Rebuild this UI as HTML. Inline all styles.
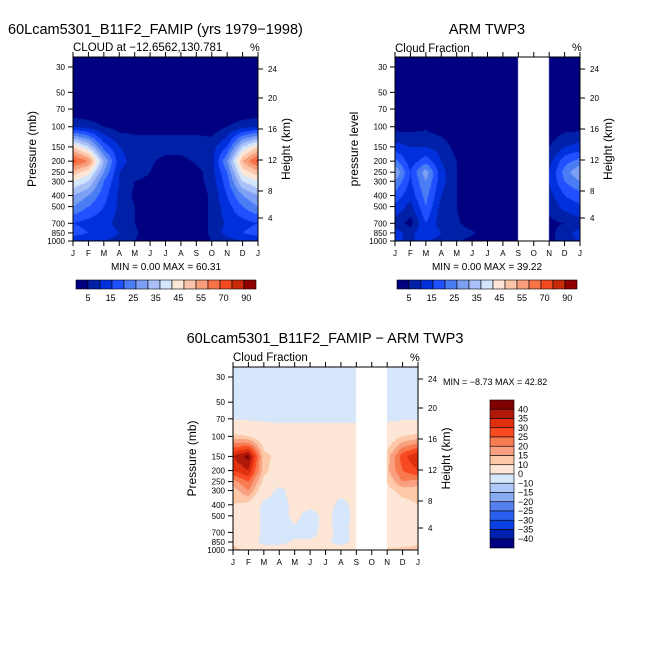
<!DOCTYPE html>
<html><head><meta charset="utf-8">
<style>
body{margin:0;background:#fff;}
#root{position:relative;width:654px;height:654px;overflow:hidden;font-family:"Liberation Sans",sans-serif;color:#000;}
canvas{position:absolute;}
svg{position:absolute;left:0;top:0;}
</style></head>
<body>
<div id="root">
<canvas id="c1" width="185" height="184" style="left:73px;top:57px"></canvas>
<canvas id="c2" width="185" height="184" style="left:395px;top:57px"></canvas>
<canvas id="c3" width="185" height="183" style="left:233px;top:367px"></canvas>
<svg id="ov" width="654" height="654"></svg>
</div>
<script>
// ---- data ----
const months = ["J","F","M","A","M","J","J","A","S","O","N","D","J"];
const levels = [30,50,70,100,150,200,250,300,400,500,700,850,1000];
const heightTicks = [24,20,16,12,8,4];
const modelCloud = [
 [0,0,0,0,0,0,0,0,0,0,0,0,0],
 [0,0,0,0,0,0,0,0,0,0,0,0,0],
 [0,0,0,0,0,0,0,0,0,0,0,0,0],
 [10,8,5,3,3,3,3,3,3,2,5,8,10],
 [45,35,18,10,8,8,8,8,8,8,15,35,45],
 [62,55,30,12,8,6,3,3,6,8,25,50,62],
 [48,42,25,10,7,5,2,2,3,8,20,42,48],
 [40,35,20,10,5,4,2,2,3,7,18,35,40],
 [30,25,17,9,4,2,1,1,2,6,15,25,30],
 [25,20,15,9,5,2,1,1,2,6,13,20,25],
 [15,13,12,8,5,2,1,1,2,6,11,13,15],
 [18,15,13,10,6,2,1,1,2,6,12,15,18],
 [10,10,10,8,5,2,1,1,2,5,8,10,10]
];
const obsCloud = [
 [0,0,0,0,0,0,0,0,0,null,0,0,0],
 [0,0,0,0,0,0,0,0,0,null,0,0,0],
 [0,0,0,0,0,0,0,0,0,null,0,0,0],
 [3,3,4,2,1,0,0,0,0,null,1,3,3],
 [12,10,10,8,3,1,0,0,0,null,5,10,12],
 [22,12,18,10,5,1,1,1,1,null,8,18,22],
 [30,15,28,12,5,1,1,1,1,null,10,22,30],
 [25,14,25,12,5,1,1,1,1,null,10,20,25],
 [18,12,22,10,5,1,1,1,1,null,8,15,18],
 [14,8,20,8,5,1,1,1,1,null,6,12,14],
 [8,3,15,7,6,2,1,1,1,null,4,5,8],
 [12,8,15,10,8,6,2,1,1,null,3,8,12],
 [10,10,10,8,6,3,1,1,1,null,3,8,10]
];
const diffCloud = [
 [-1,-1,-1,-1,-1,-1,-1,-1,-1,null,-1,-1,-1],
 [-1,-1,-1,-1,-1,-1,-1,-1,-1,null,-1,-1,-1],
 [-1,-1,-1,-1,-1,-1,-1,-1,-1,null,-1,-1,-1],
 [12,10,5,3,3,3,3,3,3,null,5,10,12],
 [35,42,12,8,5,5,5,5,5,null,12,28,35],
 [30,35,12,5,3,3,2,2,3,null,14,25,30],
 [18,25,8,3,3,3,2,2,3,null,10,20,18],
 [12,20,4,-2,3,3,2,2,3,null,8,12,12],
 [10,8,-2,-3,2,2,3,-2,2,null,5,8,10],
 [8,8,-3,-3,2,-3,2,-3,2,null,5,6,8],
 [6,9,-3,-3,-2,-2,2,-2,2,null,5,6,6],
 [9,6,-3,-2,1,1,1,-2,2,null,4,6,9],
 [12,8,5,3,3,3,3,3,2,null,12,12,12]
];
const seqBounds = [5,10,15,20,25,30,35,40,45,50,55,60,70,90];
const seqColors = ["#000080","#0020a8","#0030dc","#2050ff","#4a7cf4","#7ea0f4","#aac0f8","#d4e6fb","#fde6d6","#fcc4a8","#f89e7c","#f87448","#f44a20","#c82a0a","#900000"];
const seqLabels = ["5","15","25","35","45","55","70","90"];
const divBounds = [-40,-35,-30,-25,-20,-15,-10,0,10,15,20,25,30,35,40];
const divColors = ["#000080","#0020b0","#0a40e0","#2a60f0","#5580f0","#88aaf0","#b0c8f8","#d6e6fb","#fde6d6","#fcc8a8","#f8a080","#f87a50","#f84a20","#e03010","#b01808","#800000"];
const divLabels = ["40","35","30","25","20","15","10","0","-10","-15","-20","-25","-30","-35","-40"];

// ---- helpers ----
function colorFor(v,bounds,cols){let i=0;while(i<bounds.length&&v>=bounds[i])i++;return cols[i];}
function yOfP(p,top,h){ // 30mb at top+10, 1000 at bottom
  return top+10+(h-10)*Math.log(p/30)/Math.log(1000/30);}
function render(id,data,bounds,cols,h){
  const c=document.getElementById(id),ctx=c.getContext('2d'),W=c.width,H=c.height;
  for(let py=0;py<H;py++){
    let p=30*Math.exp((py+0.5-10)/(H-10)*Math.log(1000/30));
    let j=0;while(j<levels.length-2&&p>levels[j+1])j++;
    let fy=(Math.log(p)-Math.log(levels[j]))/(Math.log(levels[j+1])-Math.log(levels[j]));
    fy=Math.max(0,Math.min(1,fy));
    for(let px=0;px<W;px++){
      let t=(px+0.5)/W*12,i=Math.min(11,Math.floor(t)),fx=t-i;
      const a=data[j][i],b=data[j][i+1],cc=data[j+1][i],d=data[j+1][i+1];
      if(a===null||b===null||cc===null||d===null){ctx.fillStyle="#fff";}
      else{const v=(a*(1-fx)+b*fx)*(1-fy)+(cc*(1-fx)+d*fx)*fy;ctx.fillStyle=colorFor(v,bounds,cols);}
      ctx.fillRect(px,py,1,1);
    }
  }
}
render('c1',modelCloud,seqBounds,seqColors);
render('c2',obsCloud,seqBounds,seqColors);
render('c3',diffCloud,divBounds,divColors);

const svg=document.getElementById('ov');const NS="http://www.w3.org/2000/svg";
function el(tag,attrs,txt){const e=document.createElementNS(NS,tag);for(const k in attrs)e.setAttribute(k,attrs[k]);if(txt!==undefined)e.textContent=txt;svg.appendChild(e);return e;}
function panel(L,T,W,H,name,leftTitle,minmax){
  const r=el('rect',{x:L,y:T,width:W,height:H,fill:'none',stroke:'#000','stroke-width':1});
  
  months.forEach((m,i)=>{const x=L+W*i/12;
    el('line',{x1:x,y1:T+H,x2:x,y2:T+H+5,stroke:'#000'});
    el('line',{x1:x,y1:T,x2:x,y2:T-5,stroke:'#000'});
    const t=el('text',{x:x,y:T+H+15,'font-size':8,'text-anchor':'middle'},m);
    });
  levels.forEach(p=>{const y=yOfP(p,T,H);
    el('line',{x1:L,y1:y,x2:L-5,y2:y,stroke:'#000'});
    const t=el('text',{x:L-8,y:y+3,'font-size':8,'text-anchor':'end'},String(p));
    });
  const hOff=[12,41,72,103,134,161];
  heightTicks.forEach((hk,k)=>{const y=T+hOff[k];
    el('line',{x1:L+W,y1:y,x2:L+W+5,y2:y,stroke:'#000'});
    const t=el('text',{x:L+W+10,y:y+3,'font-size':8},String(hk));
    });
  const yl=el('text',{x:L-37,y:T+H/2,'font-size':12,'text-anchor':'middle',transform:`rotate(-90 ${L-37} ${T+H/2})`},leftTitle);
  
  const yr=el('text',{x:L+W+32,y:T+H/2,'font-size':12,'text-anchor':'middle',transform:`rotate(-90 ${L+W+32} ${T+H/2})`},'Height (km)');
  
  const pc=el('text',{x:L+W-8,y:T-6,'font-size':11},'%');
  
}
panel(73,57,185,184,'model','Pressure (mb)');
panel(395,57,185,184,'obs','pressure level');
panel(233,367,185,183,'diff','Pressure (mb)');

function txt(x,y,s,size,anchor,name){const t=el('text',{x:x,y:y,'font-size':size,'text-anchor':anchor||'start'},s);
  }
txt(8,34,'60Lcam5301_B11F2_FAMIP (yrs 1979\u22121998)',14.5,'start','model-title');
txt(73,51,'CLOUD at \u221212.6562,130.781',11.5,'start','model-subtitle');
txt(487,34,'ARM TWP3',14.5,'middle','obs-title');
txt(395,52,'Cloud Fraction',11.5,'start','obs-subtitle');
txt(325,343,'60Lcam5301_B11F2_FAMIP \u2212 ARM TWP3',14.5,'middle','diff-title');
txt(233,361,'Cloud Fraction',11.5,'start','diff-subtitle');
txt(166,270,'MIN =    0.00 MAX =   60.31',10,'middle','model-min-max');
txt(487,270,'MIN =    0.00 MAX =   39.22',10,'middle','obs-min-max');
txt(443,385,'MIN =  \u22128.73 MAX =  42.82',9,'start','diff-min-max');

function hbar(L,name){
  seqColors.forEach((c,i)=>{const r=el('rect',{x:L+i*12,y:280,width:12,height:9,fill:c,stroke:'#000','stroke-width':0.6});
    });
  seqLabels.forEach((s,k)=>{txt(L+12+k*22.6,301,s,9,'middle',name+'-label');});
}
hbar(76,'model-colorbar');hbar(397,'obs-colorbar');
const bh=148/16;
divColors.slice().reverse().forEach((c,i)=>{const r=el('rect',{x:490,y:400+i*bh,width:24,height:bh,fill:c,stroke:'#000','stroke-width':0.6});
  });
divLabels.forEach((s,k)=>{txt(518,400+(k+1)*bh+3,s.replace('-','\u2212'),9,'start','diff-colorbar-label');});
</script>
</body></html>
